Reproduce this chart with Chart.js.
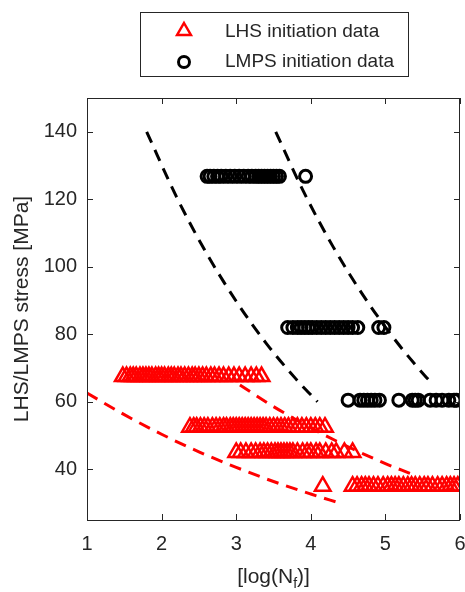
<!DOCTYPE html>
<html>
<head>
<meta charset="utf-8">
<script src="https://cdn.jsdelivr.net/npm/chart.js@4.4.1/dist/chart.umd.min.js"></script>
<style>
  html, body { margin: 0; padding: 0; background: #fff; }
  #wrap { width: 465px; height: 592px; }
</style>
</head>
<body>
<div id="wrap"><canvas id="sn" width="465" height="592"></canvas></div>
<script>
// tick labels
const ticksX = [1, 2, 3, 4, 5, 6];
const ticksY = [40, 60, 80, 100, 120, 140];

// LHS initiation data (red triangles), x = log(Nf) per stress level
const lhsLevels = [67.5, 52.5, 45, 35, 35];
const lhsX67 = [1.48, 1.53, 1.58, 1.62, 1.66, 1.71, 1.75, 1.79, 1.83, 1.87, 1.92, 1.96, 2.0, 2.04, 2.09, 2.13, 2.17, 2.22, 2.26, 2.31, 2.36, 2.41, 2.45, 2.5, 2.55, 2.6, 2.66, 2.71, 2.77, 2.83, 2.9, 2.97, 3.04, 3.12, 3.2, 3.27, 3.34];
const lhsX52 = [2.38, 2.43, 2.47, 2.52, 2.57, 2.62, 2.68, 2.73, 2.78, 2.83, 2.87, 2.92, 2.96, 3.0, 3.04, 3.08, 3.12, 3.16, 3.2, 3.24, 3.28, 3.32, 3.36, 3.4, 3.45, 3.5, 3.55, 3.6, 3.65, 3.7, 3.76, 3.82, 3.88, 3.94, 4.0, 4.06, 4.12, 4.19];
const lhsX45 = [3.0, 3.06, 3.13, 3.2, 3.26, 3.32, 3.37, 3.42, 3.47, 3.52, 3.56, 3.6, 3.64, 3.68, 3.72, 3.76, 3.82, 3.89, 3.95, 4.0, 4.07, 4.12, 4.2, 4.28, 4.34, 4.45, 4.56];
const lhsX35a = [4.16];
const lhsX35b = [4.56, 4.62, 4.68, 4.73, 4.78, 4.84, 4.9, 4.97, 5.03, 5.08, 5.13, 5.18, 5.24, 5.3, 5.35, 5.4, 5.46, 5.52, 5.57, 5.63, 5.7, 5.76, 5.82, 5.87, 5.92, 5.97];

// LMPS initiation data (black circles)
const lmpsLevels = [126.8, 82, 60.5];
const lmpsX127 = [2.61, 2.65, 2.7, 2.75, 2.8, 2.86, 2.92, 2.98, 3.04, 3.1, 3.16, 3.21, 3.26, 3.3, 3.34, 3.38, 3.42, 3.46, 3.5, 3.54, 3.58, 3.93];
const lmpsX82 = [3.69, 3.76, 3.82, 3.87, 3.92, 3.97, 4.02, 4.08, 4.14, 4.2, 4.26, 4.32, 4.38, 4.44, 4.5, 4.56, 4.63, 4.91, 4.98];
const lmpsX60 = [4.5, 4.66, 4.71, 4.76, 4.81, 4.86, 4.92, 5.18, 5.36, 5.4, 5.44, 5.6, 5.68, 5.76, 5.85, 5.92, 5.95];

// dashed fit curves
const fitBlack1X = [1.8, 2.2, 2.6, 3.0, 3.4, 3.8, 4.09];
const fitBlack1Y = [140, 120.7, 104.1, 89.8, 77.4, 66.8, 60.0];
const fitBlack2X = [3.53, 3.9, 4.3, 4.7, 5.1, 5.4, 5.62];
const fitBlack2Y = [140, 122.4, 105.9, 91.6, 79.2, 71.0, 65.5];
const fitRed1X = [1.0, 1.5, 2.0, 2.5, 3.0, 3.5, 4.0, 4.39];
const fitRed1Y = [62.6, 56.2, 50.4, 45.2, 40.6, 36.4, 32.7, 30.0];
const fitRed2X = [3.05, 3.5, 4.0, 4.5, 5.0, 5.33];
const fitRed2Y = [65.0, 58.6, 52.3, 46.7, 41.7, 38.8];

const AXIS = "#262626";
const FONT = '"Liberation Sans", Arial, Helvetica, sans-serif';

function pts(xs, level) { return xs.map((x) => ({ x: x, y: level })); }
function curve(xs, ys) { return xs.map((x, i) => ({ x: x, y: ys[i] })); }

const lhsData = [].concat(
  pts(lhsX67, lhsLevels[0]),
  pts(lhsX52, lhsLevels[1]),
  pts(lhsX45, lhsLevels[2]),
  pts(lhsX35a, lhsLevels[3]),
  pts(lhsX35b, lhsLevels[4])
);
const lmpsData = [].concat(
  pts(lmpsX127, lmpsLevels[0]),
  pts(lmpsX82, lmpsLevels[1]),
  pts(lmpsX60, lmpsLevels[2])
);

function fitLine(data, color) {
  return {
    type: "line",
    data: data,
    showLine: true,
    borderColor: color,
    borderWidth: 3,
    borderDash: [12, 8],
    pointRadius: 0,
    cubicInterpolationMode: "monotone",
    fill: false,
    order: 0,
  };
}

// box, inward ticks, x title with subscript, legend
const matlabAxes = {
  id: "matlabAxes",
  afterDraw: (chart) => {
    const ctx = chart.ctx;
    const a = chart.chartArea;
    const sx = chart.scales.x;
    const sy = chart.scales.y;
    ctx.save();
    ctx.strokeStyle = AXIS;
    ctx.lineWidth = 1;
    ctx.strokeRect(a.left + 0.5, a.top + 0.5, a.right - a.left - 1, a.bottom - a.top);
    ctx.beginPath();
    ticksX.forEach((v) => {
      const px = Math.round(sx.getPixelForValue(v)) + 0.5;
      ctx.moveTo(px, a.bottom);
      ctx.lineTo(px, a.bottom - 6);
      ctx.moveTo(px, a.top);
      ctx.lineTo(px, a.top + 6);
    });
    ticksY.forEach((v) => {
      const py = Math.round(sy.getPixelForValue(v)) + 0.5;
      ctx.moveTo(a.left, py);
      ctx.lineTo(a.left + 6, py);
      ctx.moveTo(a.right, py);
      ctx.lineTo(a.right - 6, py);
    });
    ctx.stroke();

    // x title: [log(N_f)]
    ctx.fillStyle = AXIS;
    ctx.textBaseline = "alphabetic";
    ctx.textAlign = "left";
    const big = "21px " + FONT;
    const small = "14px " + FONT;
    ctx.font = big;
    const w1 = ctx.measureText("[log(N").width;
    const w3 = ctx.measureText(")]").width;
    ctx.font = small;
    const w2 = ctx.measureText("f").width;
    const cx = (a.left + a.right) / 2;
    let x0 = cx - (w1 + w2 + w3) / 2;
    const base = 583;
    ctx.font = big;
    ctx.fillText("[log(N", x0, base);
    ctx.font = small;
    ctx.fillText("f", x0 + w1, base + 5);
    ctx.font = big;
    ctx.fillText(")]", x0 + w1 + w2, base);

    // legend
    ctx.fillStyle = "#ffffff";
    ctx.fillRect(140.5, 12.5, 268, 64);
    ctx.strokeStyle = AXIS;
    ctx.lineWidth = 1;
    ctx.strokeRect(140.5, 12.5, 268, 64);

    ctx.lineWidth = 2.5;
    ctx.strokeStyle = "#ff0000";
    const r = 8;
    ctx.beginPath();
    ctx.moveTo(184, 31 - r);
    ctx.lineTo(184 + 0.866 * r, 31 + 0.5 * r);
    ctx.lineTo(184 - 0.866 * r, 31 + 0.5 * r);
    ctx.closePath();
    ctx.stroke();

    ctx.lineWidth = 3;
    ctx.strokeStyle = "#000000";
    ctx.beginPath();
    ctx.arc(184, 62, 5.5, 0, Math.PI * 2);
    ctx.stroke();

    ctx.fillStyle = AXIS;
    ctx.font = "19px " + FONT;
    ctx.textBaseline = "middle";
    ctx.fillText("LHS initiation data", 225, 32);
    ctx.fillText("LMPS initiation data", 225, 62);
    ctx.restore();
  },
};

const ctx = document.getElementById("sn").getContext("2d");
const chart = new Chart(ctx, {
  type: "scatter",
  data: {
    datasets: [
      fitLine(curve(fitBlack1X, fitBlack1Y), "#000000"),
      fitLine(curve(fitBlack2X, fitBlack2Y), "#000000"),
      fitLine(curve(fitRed1X, fitRed1Y), "#ff0000"),
      fitLine(curve(fitRed2X, fitRed2Y), "#ff0000"),
      {
        label: "LHS initiation data",
        data: lhsData,
        pointStyle: "triangle",
        pointRadius: 9,
        borderWidth: 2.5,
        pointBorderColor: "#ff0000",
        pointBackgroundColor: "rgba(0,0,0,0)",
        clip: 0,
        order: 1,
      },
      {
        label: "LMPS initiation data",
        data: lmpsData,
        pointStyle: "circle",
        pointRadius: 6,
        borderWidth: 3,
        pointBorderColor: "#000000",
        pointBackgroundColor: "rgba(0,0,0,0)",
        clip: 0,
        order: 1,
      },
    ],
  },
  options: {
    responsive: false,
    animation: false,
    layout: { autoPadding: false, padding: { left: 0, top: 98, right: 5, bottom: 0 } },
    plugins: {
      legend: { display: false },
      tooltip: { enabled: false },
    },
    scales: {
      x: {
        type: "linear",
        min: 1,
        max: 6,
        afterBuildTicks: (scale) => {
          scale.ticks = ticksX.map((v) => ({ value: v }));
        },
        afterFit: (scale) => {
          scale.height = 72;
          scale.paddingLeft = 0;
          scale.paddingRight = 0;
        },
        grid: { display: false, drawTicks: false },
        border: { display: false },
        ticks: {
          padding: 12,
          color: AXIS,
          font: { family: FONT, size: 20 },
        },
        title: { display: false },
      },
      y: {
        type: "linear",
        min: 25,
        max: 150,
        afterBuildTicks: (scale) => {
          scale.ticks = ticksY.map((v) => ({ value: v }));
        },
        afterFit: (scale) => {
          scale.width = 87;
          scale.paddingTop = 0;
          scale.paddingBottom = 0;
        },
        grid: { display: false, drawTicks: false },
        border: { display: false },
        ticks: {
          padding: 10,
          color: AXIS,
          font: { family: FONT, size: 20 },
        },
        title: {
          display: true,
          text: "LHS/LMPS stress [MPa]",
          color: AXIS,
          font: { family: FONT, size: 21 },
          padding: { top: 10, bottom: 0 },
        },
      },
    },
  },
  plugins: [matlabAxes],
});
</script>
</body>
</html>
